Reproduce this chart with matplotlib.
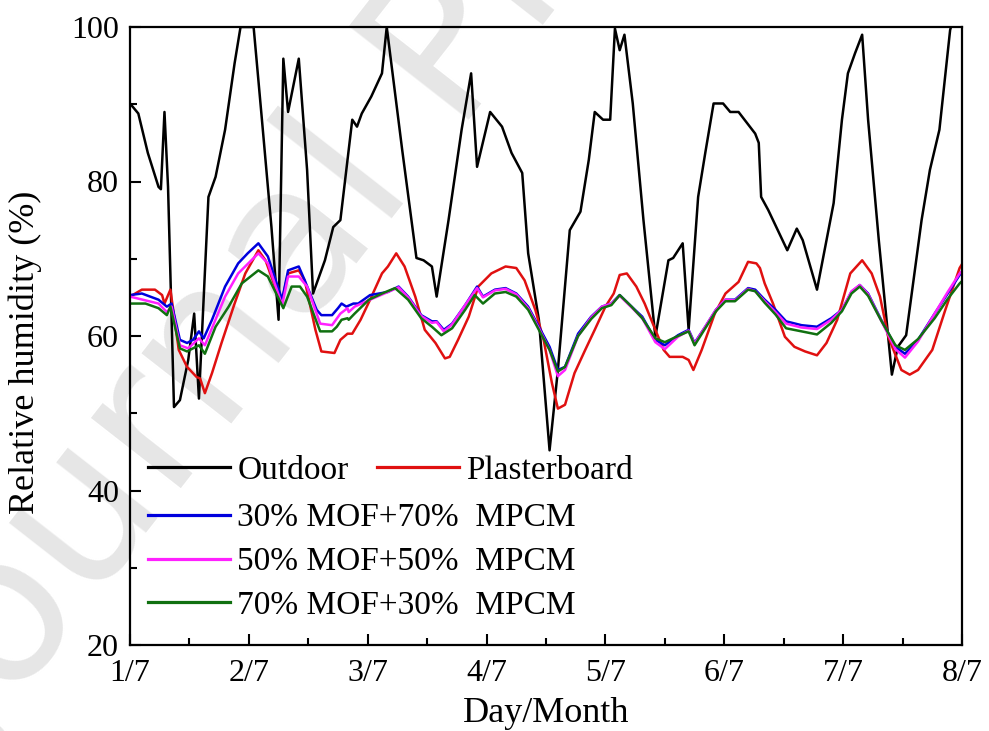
import matplotlib
matplotlib.use("Agg")
import matplotlib.pyplot as plt
from matplotlib.ticker import MultipleLocator

plt.rcParams['font.family'] = ['Liberation Serif', 'DejaVu Serif']

# time in days from 1/7 00:00
outdoor_t = [0.0, 0.07, 0.15, 0.24, 0.26, 0.29, 0.32, 0.37, 0.42, 0.49, 0.54, 0.58, 0.66, 0.72,
             0.80, 0.88, 0.93, 1.04, 1.11, 1.19, 1.25, 1.29, 1.33, 1.42, 1.49, 1.54, 1.64, 1.71,
             1.77, 1.87, 1.91, 1.95, 2.03, 2.12, 2.16, 2.29, 2.41, 2.47, 2.54, 2.58, 2.68, 2.79,
             2.87, 2.92, 3.03, 3.13, 3.21, 3.30, 3.35, 3.44, 3.53, 3.60, 3.70, 3.79, 3.86, 3.91,
             3.98, 4.04, 4.08, 4.12, 4.16, 4.23, 4.32, 4.42, 4.53, 4.57, 4.65, 4.70, 4.78, 4.84,
             4.91, 4.99, 5.05, 5.12, 5.17, 5.26, 5.29, 5.31, 5.37, 5.41, 5.45, 5.53, 5.61, 5.66,
             5.78, 5.92, 5.99, 6.04, 6.10, 6.16, 6.21, 6.30, 6.41, 6.46, 6.53, 6.66, 6.73, 6.81,
             6.90, 7.0]
outdoor = [90.1, 88.8, 83.7, 79.3, 79.0, 89.0, 79.3, 50.8, 51.7, 56.9, 62.9, 51.9, 78.0, 80.6,
           86.7, 95.3, 100, 100, 88.0, 74.1, 62.1, 95.9, 89.0, 95.9, 81.5, 65.5, 69.8, 74.1,
           75.0, 88.0, 87.1, 88.8, 91.0, 94.0, 100, 84.1, 70.1, 69.8, 69.0, 65.1, 75.0, 86.7,
           94.0, 81.9, 89.0, 87.1, 83.7, 81.1, 70.7, 62.1, 45.2, 55.6, 73.7, 76.1, 82.8, 89.0,
           88.0, 88.0, 99.8, 97.0, 99.0, 90.1, 75.0, 59.9, 69.8, 70.1, 72.0, 60.8, 78.0, 83.7,
           90.1, 90.1, 89.0, 89.0, 88.0, 86.2, 85.0, 78.0, 76.3, 75.0, 73.7, 71.1, 73.9, 72.4,
           66.0, 77.2, 88.0, 94.0, 96.6, 99.0, 88.0, 72.4, 55.0, 58.6, 60.1, 75.0, 81.5, 86.7,
           99.6, 105.0]

plaster_t = [0.0, 0.10, 0.21, 0.27, 0.29, 0.34, 0.41, 0.48, 0.56, 0.59, 0.63, 0.69, 0.77, 0.88,
             0.97, 1.08, 1.14, 1.22, 1.28, 1.33, 1.42, 1.47, 1.56, 1.61, 1.72, 1.77, 1.83, 1.87,
             1.94, 2.02, 2.12, 2.17, 2.24, 2.31, 2.40, 2.48, 2.57, 2.65, 2.69, 2.76, 2.85, 2.93,
             3.04, 3.16, 3.25, 3.32, 3.41, 3.48, 3.55, 3.60, 3.66, 3.74, 3.83, 3.91, 4.00, 4.07,
             4.12, 4.18, 4.26, 4.33, 4.42, 4.49, 4.54, 4.65, 4.70, 4.74, 4.81, 4.92, 5.01, 5.12,
             5.20, 5.27, 5.30, 5.34, 5.41, 5.51, 5.59, 5.68, 5.78, 5.86, 5.95, 6.06, 6.16, 6.24,
             6.31, 6.38, 6.49, 6.56, 6.63, 6.75, 6.86, 6.98, 7.0]
plaster = [65.1, 66.0, 66.0, 65.3, 64.2, 66.0, 58.2, 56.0, 54.7, 54.5, 52.6, 55.2, 59.1, 64.2,
           68.1, 71.1, 69.8, 66.4, 64.7, 68.1, 68.5, 67.2, 60.8, 58.0, 57.8, 59.5, 60.3, 60.3,
           62.1, 64.7, 68.1, 69.0, 70.7, 69.0, 65.1, 60.8, 59.1, 57.1, 57.3, 59.5, 62.5, 66.4,
           68.1, 69.0, 68.8, 67.2, 63.4, 59.5, 53.9, 50.6, 51.1, 55.2, 58.2, 60.8, 63.8, 65.5,
           67.9, 68.1, 66.4, 64.2, 60.8, 58.2, 57.3, 57.3, 56.9, 55.6, 58.2, 62.9, 65.5, 67.0,
           69.6, 69.4, 68.8, 66.8, 64.2, 59.9, 58.6, 58.0, 57.5, 59.1, 62.1, 68.1, 69.8, 68.1,
           65.1, 59.9, 55.6, 55.0, 55.6, 58.2, 63.4, 68.8, 69.3]

mof30_t = [0.0, 0.10, 0.24, 0.31, 0.35, 0.42, 0.48, 0.53, 0.58, 0.62, 0.69, 0.80, 0.91, 0.99,
           1.08, 1.16, 1.28, 1.33, 1.42, 1.47, 1.57, 1.61, 1.70, 1.75, 1.78, 1.82, 1.88, 1.92,
           2.02, 2.17, 2.26, 2.34, 2.45, 2.54, 2.58, 2.64, 2.71, 2.82, 2.92, 2.97, 3.07, 3.16,
           3.25, 3.35, 3.44, 3.53, 3.60, 3.66, 3.77, 3.88, 3.97, 4.05, 4.12, 4.22, 4.31, 4.42,
           4.50, 4.61, 4.70, 4.75, 4.84, 4.93, 5.01, 5.09, 5.20, 5.26, 5.34, 5.43, 5.52, 5.65,
           5.78, 5.90, 5.99, 6.07, 6.14, 6.21, 6.32, 6.44, 6.52, 6.63, 6.77, 6.88, 6.98, 7.0]
mof30 = [65.3, 65.5, 64.7, 63.8, 64.2, 59.5, 59.1, 59.5, 60.6, 59.7, 62.1, 66.4, 69.4, 70.7,
         72.0, 70.3, 64.7, 68.5, 69.0, 67.2, 63.4, 62.7, 62.7, 63.6, 64.2, 63.8, 64.2, 64.2,
         65.3, 65.7, 66.4, 65.1, 62.7, 61.9, 61.9, 60.8, 61.6, 64.0, 66.4, 65.1, 66.0, 66.2,
         65.5, 63.8, 61.2, 58.6, 55.6, 56.0, 60.3, 62.5, 63.8, 64.2, 65.3, 63.8, 62.5, 59.5,
         58.8, 60.1, 60.8, 59.1, 61.2, 63.4, 64.7, 64.7, 66.2, 66.0, 64.7, 63.4, 61.9, 61.4,
         61.2, 62.3, 63.4, 65.7, 66.6, 65.5, 62.1, 58.6, 57.7, 59.5, 62.9, 65.5, 67.9, 68.2]

mof50_t = [0.0, 0.24, 0.31, 0.35, 0.42, 0.49, 0.58, 0.63, 0.80, 0.91, 1.08, 1.16, 1.28, 1.33,
           1.42, 1.49, 1.60, 1.70, 1.77, 1.83, 1.84, 1.89, 2.02, 2.17, 2.26, 2.34, 2.45, 2.54,
           2.58, 2.64, 2.71, 2.82, 2.92, 2.97, 3.07, 3.16, 3.25, 3.35, 3.44, 3.53, 3.60, 3.66,
           3.77, 3.88, 3.97, 4.05, 4.12, 4.22, 4.31, 4.42, 4.50, 4.61, 4.70, 4.75, 4.84, 4.93,
           5.01, 5.09, 5.20, 5.26, 5.34, 5.43, 5.52, 5.65, 5.78, 5.90, 5.99, 6.07, 6.14, 6.21,
           6.32, 6.44, 6.52, 6.63, 6.77, 6.88, 6.98, 7.0]
mof50 = [65.1, 64.2, 63.1, 63.8, 58.8, 58.4, 59.7, 58.8, 65.1, 68.1, 70.7, 69.4, 64.0, 67.7,
         67.7, 66.4, 61.6, 61.4, 62.9, 63.6, 63.1, 63.8, 64.7, 65.7, 66.3, 65.0, 62.6, 61.7,
         61.8, 60.6, 61.5, 64.0, 66.2, 65.0, 65.9, 66.1, 65.4, 63.6, 61.0, 58.2, 54.8, 55.6,
         60.0, 62.4, 63.8, 64.2, 65.2, 63.7, 62.3, 59.2, 58.3, 59.9, 60.7, 59.0, 61.2, 63.4,
         64.7, 64.6, 66.1, 65.8, 64.5, 63.1, 61.6, 61.1, 60.9, 62.1, 63.4, 65.8, 66.6, 65.4,
         62.0, 58.3, 57.2, 59.3, 62.9, 65.7, 68.1, 68.4]

mof70_t = [0.0, 0.13, 0.24, 0.31, 0.34, 0.42, 0.48, 0.58, 0.63, 0.72, 0.83, 0.94, 1.08, 1.16,
           1.29, 1.36, 1.43, 1.49, 1.60, 1.70, 1.74, 1.78, 1.83, 1.84, 1.89, 2.01, 2.12, 2.23,
           2.34, 2.45, 2.54, 2.62, 2.71, 2.82, 2.90, 2.97, 3.07, 3.16, 3.25, 3.35, 3.44, 3.53,
           3.60, 3.66, 3.77, 3.88, 3.97, 4.05, 4.12, 4.22, 4.31, 4.42, 4.50, 4.61, 4.70, 4.75,
           4.84, 4.93, 5.01, 5.09, 5.20, 5.26, 5.34, 5.43, 5.52, 5.65, 5.78, 5.90, 5.99, 6.07,
           6.14, 6.21, 6.32, 6.44, 6.52, 6.63, 6.77, 6.88, 6.98, 7.0]
mof70 = [64.2, 64.2, 63.6, 62.7, 63.8, 58.4, 58.0, 58.8, 57.7, 61.2, 63.8, 66.8, 68.5, 67.7,
         63.6, 66.4, 66.4, 65.1, 60.6, 60.6, 61.2, 62.1, 62.3, 62.1, 62.9, 64.7, 65.5, 66.2,
         64.7, 62.3, 61.2, 60.1, 61.0, 63.4, 65.3, 64.2, 65.5, 65.7, 65.1, 63.4, 60.8, 58.2,
         55.4, 56.0, 60.0, 62.2, 63.6, 64.0, 65.3, 63.8, 62.3, 59.7, 59.2, 60.0, 60.6, 58.8,
         61.0, 63.2, 64.5, 64.5, 66.0, 65.8, 64.3, 62.8, 61.0, 60.6, 60.2, 61.7, 63.2, 65.5,
         66.4, 65.2, 62.0, 58.8, 58.2, 59.6, 62.3, 64.8, 66.8, 67.1]

day_labels = ['1/7', '2/7', '3/7', '4/7', '5/7', '6/7', '7/7', '8/7']

fig = plt.figure(figsize=(9.89, 7.31), dpi=100)
ax = fig.add_axes([130/989, 1 - 645/731, 832/989, 618/731])
ax.patch.set_alpha(0)

# watermark, kept behind the axes
fig.text(0.47, 0.94, 'Journal Pre-proof', rotation=52, fontsize=150, color='#e6e6e6',
         family='DejaVu Sans', ha='center', va='center', zorder=-1)

lw = 1.8
ax.plot(outdoor_t, outdoor, color='black', lw=lw, label='Outdoor')
ax.plot(plaster_t, plaster, color='#e01010', lw=lw, label='Plasterboard')
l30, = ax.plot(mof30_t, mof30, color='#0000dd', lw=lw)
l50, = ax.plot(mof50_t, mof50, color='#ff20ff', lw=lw)
l70, = ax.plot(mof70_t, mof70, color='#107010', lw=lw)

ax.set_xlim(0, 7)
ax.set_ylim(20, 100)
ax.set_xticks(range(8))
ax.set_xticklabels(day_labels)
ax.xaxis.set_minor_locator(MultipleLocator(0.5))
ax.yaxis.set_major_locator(MultipleLocator(20))
ax.yaxis.set_minor_locator(MultipleLocator(10))
ax.tick_params(which='both', direction='in', top=False, right=False, labelsize=23, width=1.5)
ax.tick_params(axis='x', pad=10)
ax.tick_params(axis='y', pad=8)
ax.tick_params(which='major', length=8)
ax.tick_params(which='minor', length=5)
for s in ax.spines.values():
    s.set_linewidth(1.6)

ax.set_xlabel('Day/Month', fontsize=26)
ax.xaxis.set_label_coords(0.5, -0.084)
ax.set_ylabel('Relative humidity (%)', fontsize=26)
ax.yaxis.set_label_coords(-0.106, 0.474)

leg1 = ax.legend(loc='upper left', bbox_to_anchor=(0.0216, 0.307), ncol=2, frameon=False,
                 fontsize=24, handlelength=2.46, handletextpad=0.22, columnspacing=0.85,
                 borderpad=0, borderaxespad=0)
for h in leg1.get_lines():
    h.set_linewidth(2.3)
ax.add_artist(leg1)
leg2 = ax.legend([l30, l50, l70], ['30% MOF+70%  MPCM', '50% MOF+50%  MPCM', '70% MOF+30%  MPCM'],
                 loc='upper left', bbox_to_anchor=(0.0216, 0.230), frameon=False, fontsize=24,
                 handlelength=2.46, handletextpad=0.22, labelspacing=0.4, borderpad=0,
                 borderaxespad=0)
for h in leg2.get_lines():
    h.set_linewidth(2.3)

fig.savefig('out.png', dpi=100)
